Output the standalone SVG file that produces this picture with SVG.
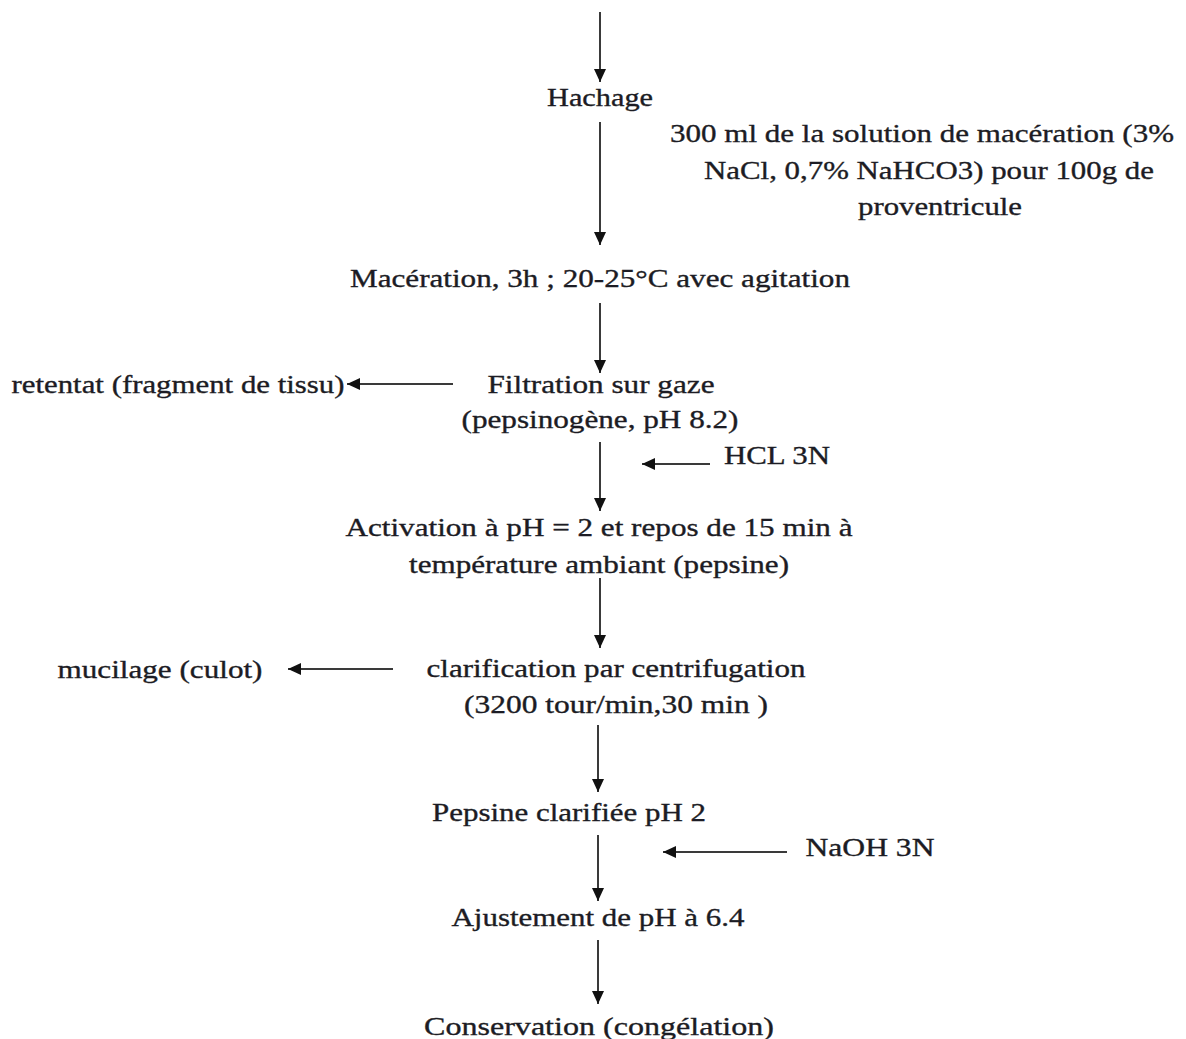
<svg xmlns="http://www.w3.org/2000/svg" width="1186" height="1039" viewBox="0 0 1186 1039">
<style>
text{font-family:"Liberation Serif","Times New Roman",serif;font-size:26px;fill:#1c1c24;stroke:#1c1c24;stroke-width:0.35;text-anchor:middle}
.c line{stroke:#3a3a3a;stroke-width:2;marker-end:url(#ah)}
</style>
<defs>
<marker id="ah" markerUnits="userSpaceOnUse" markerWidth="14" markerHeight="14" viewBox="0 0 14 14" refX="13" refY="7" orient="auto">
<path d="M0,1 L13,7 L0,13 Z" fill="#111"/>
</marker>
</defs>
<rect width="1186" height="1039" fill="#fff"/>
<g class="c" id="connectors">
<line x1="600" y1="12" x2="600" y2="82"/>
<line x1="600" y1="122" x2="600" y2="245"/>
<line x1="600" y1="303" x2="600" y2="373"/>
<line x1="453" y1="384" x2="347" y2="384"/>
<line x1="600" y1="442" x2="600" y2="511"/>
<line x1="710" y1="464" x2="642" y2="464"/>
<line x1="600" y1="578" x2="600" y2="648"/>
<line x1="393" y1="669" x2="288" y2="669"/>
<line x1="598" y1="725" x2="598" y2="792"/>
<line x1="598" y1="835" x2="598" y2="901"/>
<line x1="787" y1="852" x2="663" y2="852"/>
<line x1="598" y1="940" x2="598" y2="1004"/>
</g>
<g id="hachage"><text x="600" y="106" textLength="106" lengthAdjust="spacingAndGlyphs">Hachage</text></g>
<g id="solution">
<text x="922" y="142" textLength="504" lengthAdjust="spacingAndGlyphs">300 ml de la solution de macération (3%</text>
<text x="929" y="179" textLength="450" lengthAdjust="spacingAndGlyphs">NaCl, 0,7% NaHCO3) pour 100g de</text>
<text x="940" y="215" textLength="164" lengthAdjust="spacingAndGlyphs">proventricule</text>
</g>
<g id="maceration"><text x="600" y="287" textLength="500" lengthAdjust="spacingAndGlyphs">Macération, 3h ; 20-25°C avec agitation</text></g>
<g id="retentat"><text x="178" y="393" textLength="333" lengthAdjust="spacingAndGlyphs">retentat (fragment de tissu)</text></g>
<g id="filtration">
<text x="601" y="393" textLength="227" lengthAdjust="spacingAndGlyphs">Filtration sur gaze</text>
<text x="600" y="428" textLength="277" lengthAdjust="spacingAndGlyphs">(pepsinogène, pH 8.2)</text>
</g>
<g id="hcl"><text x="777" y="464" textLength="106" lengthAdjust="spacingAndGlyphs">HCL 3N</text></g>
<g id="activation">
<text x="599" y="536" textLength="507" lengthAdjust="spacingAndGlyphs">Activation à pH = 2 et repos de 15 min à</text>
<text x="599" y="573" textLength="380" lengthAdjust="spacingAndGlyphs">température ambiant (pepsine)</text>
</g>
<g id="mucilage"><text x="160" y="678" textLength="205" lengthAdjust="spacingAndGlyphs">mucilage (culot)</text></g>
<g id="clarification">
<text x="616" y="677" textLength="379" lengthAdjust="spacingAndGlyphs">clarification par centrifugation</text>
<text x="616" y="713" textLength="304" lengthAdjust="spacingAndGlyphs">(3200 tour/min,30 min )</text>
</g>
<g id="pepsine"><text x="569" y="821" textLength="274" lengthAdjust="spacingAndGlyphs">Pepsine clarifiée pH 2</text></g>
<g id="naoh"><text x="870" y="856" textLength="129" lengthAdjust="spacingAndGlyphs">NaOH 3N</text></g>
<g id="ajustement"><text x="598" y="926" textLength="293" lengthAdjust="spacingAndGlyphs">Ajustement de pH à 6.4</text></g>
<g id="conservation"><text x="599" y="1035" textLength="350" lengthAdjust="spacingAndGlyphs">Conservation (congélation)</text></g>
</svg>
